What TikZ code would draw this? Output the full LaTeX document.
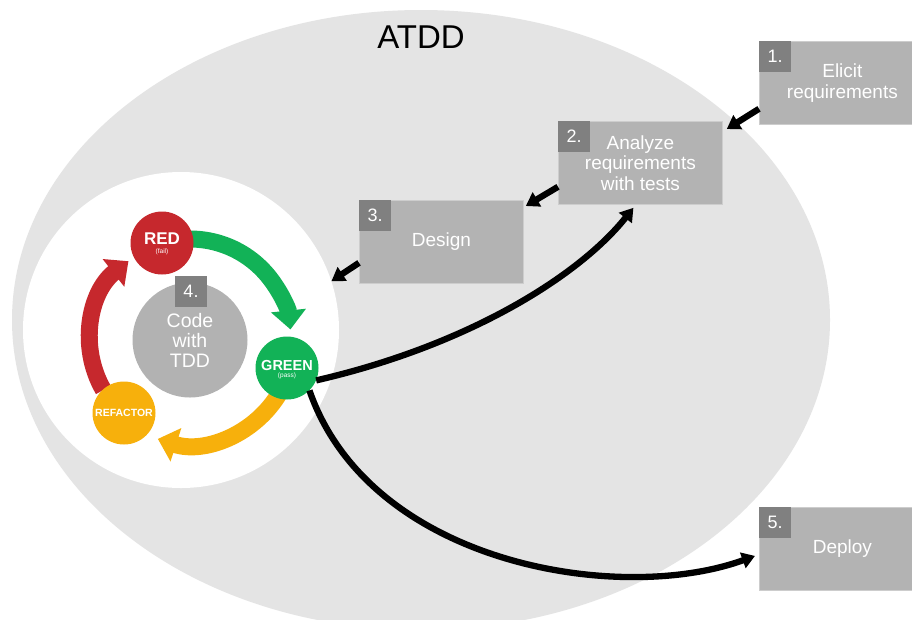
\documentclass[tikz,border=0pt]{standalone}
\usepackage{fontspec}
\setmainfont{Liberation Sans}
\usetikzlibrary{arrows.meta,calc}

\definecolor{atddfill}{HTML}{E4E4E4}
\definecolor{stepfill}{HTML}{B3B3B3}
\definecolor{numfill}{HTML}{808080}
\definecolor{stepedge}{HTML}{CDCDCD}
\definecolor{tddred}{HTML}{C6282D}
\definecolor{tddgreen}{HTML}{12B257}
\definecolor{tddamber}{HTML}{F7B00C}
\definecolor{tddgray}{HTML}{B2B2B2}

\begin{document}
\begin{tikzpicture}[x=1pt,y=-1pt,
  stepbox/.style={rectangle, fill=stepfill, draw=stepedge, line width=0.8pt,
    anchor=north west, inner sep=0pt, text=white, align=center,
    minimum height=83pt, font=\fontsize{19}{20.5}\selectfont},
  numbox/.style={rectangle, fill=numfill, anchor=north west, minimum width=32pt,
    minimum height=31pt, inner sep=0pt, text=white, font=\fontsize{18}{20}\selectfont},
  phase/.style={circle, inner sep=0pt, minimum size=63pt},
  phasetxt/.style={text=white, inner sep=0pt, font=\bfseries\fontsize{#1}{#1}\selectfont},
  phasenote/.style={text=white, inner sep=0pt, font=\fontsize{6.5}{7}\selectfont},
  flow/.style={line width=6.3pt, -{Triangle[width=16pt,length=13pt]}},
  cyc/.style={line width=17pt, -{Triangle[width=34pt,length=19pt]}},
]
\useasboundingbox (0,0) rectangle (912,619);
\fill[white] (0,0) rectangle (912,619);

% ATDD scope
\fill[atddfill] (421,320) ellipse [x radius=409, y radius=310];
\node[font=\fontsize{33}{36}\selectfont] (title) at (421,37) {ATDD};

% process steps
\node[stepbox, minimum width=166pt] (b1) at (759,41) {Elicit\\requirements};
\node[numbox] (n1) at (b1.north west) {1.};
\node[stepbox, minimum width=164pt] (b2) at (558,121) {Analyze\\requirements\\with tests};
\node[numbox] (n2) at (b2.north west) {2.};
\node[stepbox, minimum width=164pt] (b3) at (359,200) {Design};
\node[numbox] (n3) at (b3.north west) {3.};
\node[stepbox, minimum width=166pt] (b5) at (759,507) {Deploy};
\node[numbox] (n5) at (b5.north west) {5.};

% TDD cycle area
\node[circle, fill=white, minimum size=316pt, inner sep=0pt] (wc) at (181,330) {};
\coordinate (cc) at (190,340);

% links between steps
\draw[flow] ($(b1.south west)+(0,-16)$) -- ($(b2.north east)+(4,8)$);
\draw[flow] ($(b2.south west)+(0,-18)$) -- ($(b3.north east)+(2,6)$);
\draw[flow] ($(b3.south west)+(0,-21)$) -- (wc.18);

% cycle arrows
\draw[cyc, tddgreen] ($(cc)+(-100:101)$) arc[start angle=-100, end angle=-6, radius=101];
\draw[cyc, tddamber] ($(cc)+(-330:104)$) arc[start angle=-330, end angle=-252, radius=104];
\draw[cyc, tddred] ($(cc)+(-210:100)$) arc[start angle=-210, end angle=-128, radius=100];

% phase circles
\node[phase, fill=tddgreen] (green) at (287,368) {};
\node[phase, fill=tddred] (red) at (162,243) {};
\node[phase, fill=tddamber] (refactor) at (124,413) {};

% feedback and deployment from green
\draw[flow] (green.-23) .. controls (470,345) and (580,275) .. ($(b2.south)+(-7,3)$);
\draw[flow] (green.-45) .. controls (370,565) and (620,605) .. ($(b5.west)+(-4,7)$);

\node[phasetxt=17] (redlbl) at (162,239) {RED};
\node[phasenote] (rednote) at (162,252) {(fail)};
\node[phasetxt=14.5] (greenlbl) at (287,365) {GREEN};
\node[phasenote] (greennote) at (287,376) {(pass)};
\node[phasetxt=10.5] (reflbl) at (124,413) {REFACTOR};

% inner step
\node[circle, fill=tddgray, minimum size=115pt, inner sep=0pt, text=white,
  align=center, font=\fontsize{19.5}{20}\selectfont] (tdd) at (190,340) {Code\\with\\TDD};
\node[numbox, anchor=center] (n4) at (191,291.5) {4.};
\end{tikzpicture}
\end{document}
